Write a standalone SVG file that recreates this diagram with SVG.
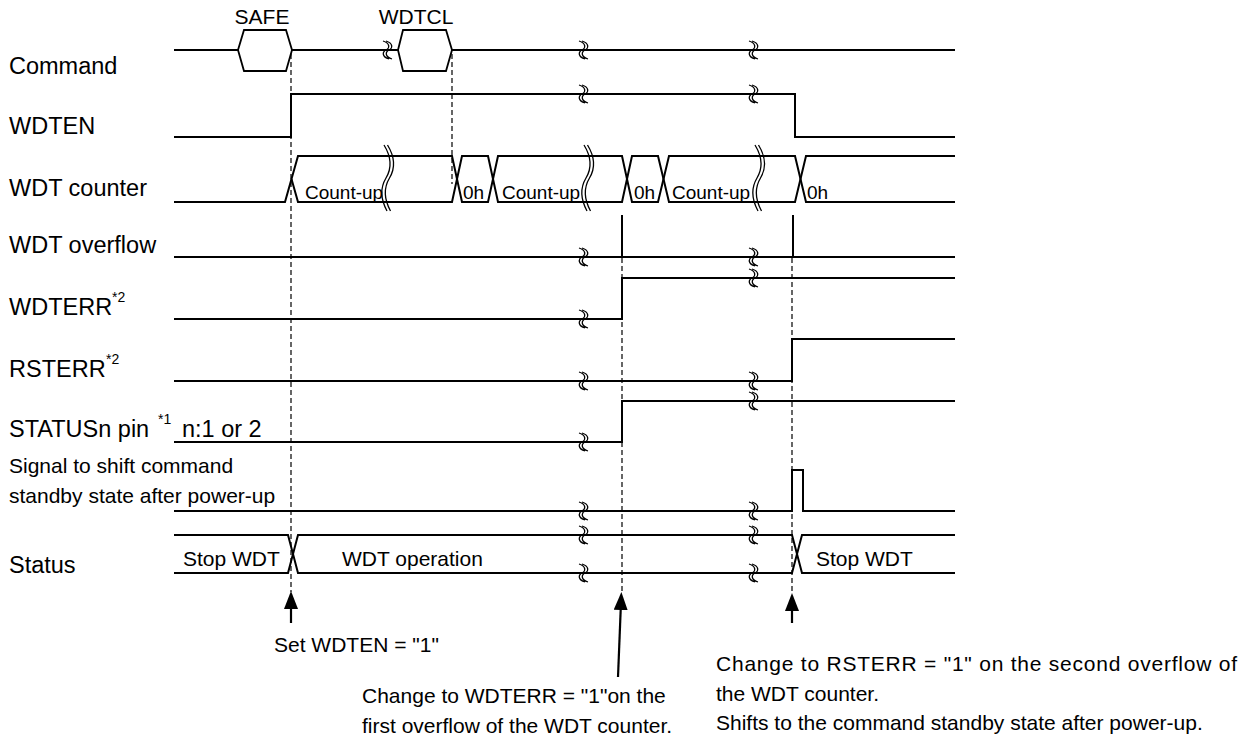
<svg xmlns="http://www.w3.org/2000/svg" xmlns:xlink="http://www.w3.org/1999/xlink" width="1245" height="742" viewBox="0 0 1245 742">
<style>
text{font-family:"Liberation Sans",Arial,sans-serif;fill:#000}
.lbl{font-size:23.5px}
.sm{font-size:21px}
.in{font-size:19px}
.sup{font-size:14px}
.sig{fill:none;stroke:#000;stroke-width:2;stroke-linejoin:miter}
.hex{fill:none;stroke:#000;stroke-width:1.8}
.brk{fill:none;stroke:#000;stroke-width:1.3}
.dash{fill:none;stroke:#000;stroke-width:1.2;stroke-dasharray:5 3}
.arr{fill:none;stroke:#000;stroke-width:2.2}
</style>
<defs>
<path id="brk" class="brk" d="M-3,-9 C4,-7 4,-2 0,0 C-4,2 -4,7 3,9 M0,-9 C7,-7 7,-2 3,0 C-1,2 -1,7 6,9"/>
<path id="tbrk" class="brk" d="M-2,-33 C6,-20 6,-10 0,0 C-6,10 -6,20 1,33 M1.5,-33 C9.5,-20 9.5,-10 3.5,0 C-2.5,10 -2.5,20 4.5,33"/>
<marker id="ah" viewBox="0 0 18 14" refX="8" refY="7" markerWidth="18" markerHeight="14" markerUnits="userSpaceOnUse" orient="auto">
<path d="M0,0 L18,7 L0,14 z" fill="#000"/>
</marker>
</defs>
<rect width="1245" height="742" fill="#fff"/>

<g id="labels">
<text class="lbl" x="9" y="74">Command</text>
<text class="lbl" x="9" y="134">WDTEN</text>
<text class="lbl" x="9" y="196">WDT counter</text>
<text class="lbl" x="9" y="253">WDT overflow</text>
<text class="lbl" x="9" y="315">WDTERR</text><text class="sup" x="112" y="302">*2</text>
<text class="lbl" x="9" y="377">RSTERR</text><text class="sup" x="106" y="364">*2</text>
<text class="lbl" x="9" y="437">STATUSn pin</text><text class="sup" x="158" y="424">*1</text><text class="lbl" x="182" y="437">n:1 or 2</text>
<text class="sm" x="9" y="473">Signal to shift command</text>
<text class="sm" x="9" y="503">standby state after power-up</text>
<text class="lbl" x="9" y="573">Status</text>
</g>

<g id="command">
<path class="sig" d="M174,50 H238 M292,50 H398 M452,50 H955"/>
<polygon class="hex" points="238,50 244,30 286,30 292,50 286,71 244,71"/>
<polygon class="hex" points="398,50 403,30 446,30 452,50 446,71 403,71"/>
<text class="sm" x="262" y="24" text-anchor="middle">SAFE</text>
<text class="sm" x="416" y="24" text-anchor="middle">WDTCL</text>
<use xlink:href="#brk" x="386" y="50"/><use xlink:href="#brk" x="582" y="50"/><use xlink:href="#brk" x="752" y="50"/>
</g>

<g id="wdten">
<path class="sig" d="M174,137 H291 V94 H795 V137 H955"/>
<use xlink:href="#brk" x="582" y="94"/><use xlink:href="#brk" x="752" y="94"/>
</g>

<g id="wdt-counter">
<path class="sig" d="M174,202 H285 L298,156 H452 L462,202 H488 L498,156 H622 L632,202 H658 L669,156 H795 L806,202 H955"/>
<path class="sig" d="M291.5,179 L298,202 H452 L462,156 H488 L498,202 H622 L632,156 H658 L669,202 H795 L806,156 H955"/>
<text class="in" x="305" y="199">Count-up</text>
<text class="in" x="463" y="199">0h</text>
<text class="in" x="502" y="199">Count-up</text>
<text class="in" x="634" y="199">0h</text>
<text class="in" x="672" y="199">Count-up</text>
<text class="in" x="807" y="199">0h</text>
<use xlink:href="#tbrk" x="386" y="178"/><use xlink:href="#tbrk" x="586" y="178"/><use xlink:href="#tbrk" x="757" y="178"/>
</g>

<g id="wdt-overflow">
<path class="sig" d="M174,257 H955 M622,257 V215 M793,257 V215"/>
<use xlink:href="#brk" x="582" y="257"/><use xlink:href="#brk" x="752" y="257"/>
</g>

<g id="wdterr">
<path class="sig" d="M174,319 H622 V278 H955"/>
<use xlink:href="#brk" x="582" y="319"/><use xlink:href="#brk" x="752" y="278"/>
</g>

<g id="rsterr">
<path class="sig" d="M174,381 H792 V339 H955"/>
<use xlink:href="#brk" x="582" y="381"/><use xlink:href="#brk" x="752" y="381"/>
</g>

<g id="statusn">
<path class="sig" d="M174,442 H622 V401 H955"/>
<use xlink:href="#brk" x="582" y="442"/><use xlink:href="#brk" x="752" y="401"/>
</g>

<g id="shift-signal">
<path class="sig" d="M174,511 H792 V470 H803 V511 H955"/>
<use xlink:href="#brk" x="582" y="511"/><use xlink:href="#brk" x="752" y="511"/>
</g>

<g id="status">
<path class="sig" d="M174,535 H288 L298,573 H792 L802,535 H955"/>
<path class="sig" d="M174,573 H288 L298,535 H792 L802,573 H955"/>
<text class="sm" x="183" y="566">Stop WDT</text>
<text class="sm" x="342" y="566">WDT operation</text>
<text class="sm" x="816" y="566">Stop WDT</text>
<use xlink:href="#brk" x="582" y="535"/><use xlink:href="#brk" x="582" y="573"/>
<use xlink:href="#brk" x="752" y="535"/><use xlink:href="#brk" x="752" y="573"/>
</g>

<g id="connectors">
<line class="dash" x1="291" y1="54" x2="291" y2="592"/>
<line class="dash" x1="452" y1="54" x2="452" y2="184"/>
<line class="dash" x1="622" y1="258" x2="622" y2="592"/>
<line class="dash" x1="792" y1="258" x2="792" y2="594"/>
<line class="arr" x1="291" y1="623" x2="291" y2="601" marker-end="url(#ah)"/>
<line class="arr" x1="618" y1="677" x2="621" y2="602" marker-end="url(#ah)"/>
<line class="arr" x1="792" y1="623" x2="792" y2="603" marker-end="url(#ah)"/>
</g>

<g id="notes">
<text class="sm" x="274" y="652">Set WDTEN = "1"</text>
<text class="sm" x="362" y="703">Change to WDTERR = "1"on the</text>
<text class="sm" x="362" y="733">first overflow of the WDT counter.</text>
<text class="sm" x="716" y="671" textLength="521" lengthAdjust="spacing">Change to RSTERR = "1" on the second overflow of</text>
<text class="sm" x="716" y="701">the WDT counter.</text>
<text class="sm" x="716" y="730">Shifts to the command standby state after power-up.</text>
</g>
</svg>
